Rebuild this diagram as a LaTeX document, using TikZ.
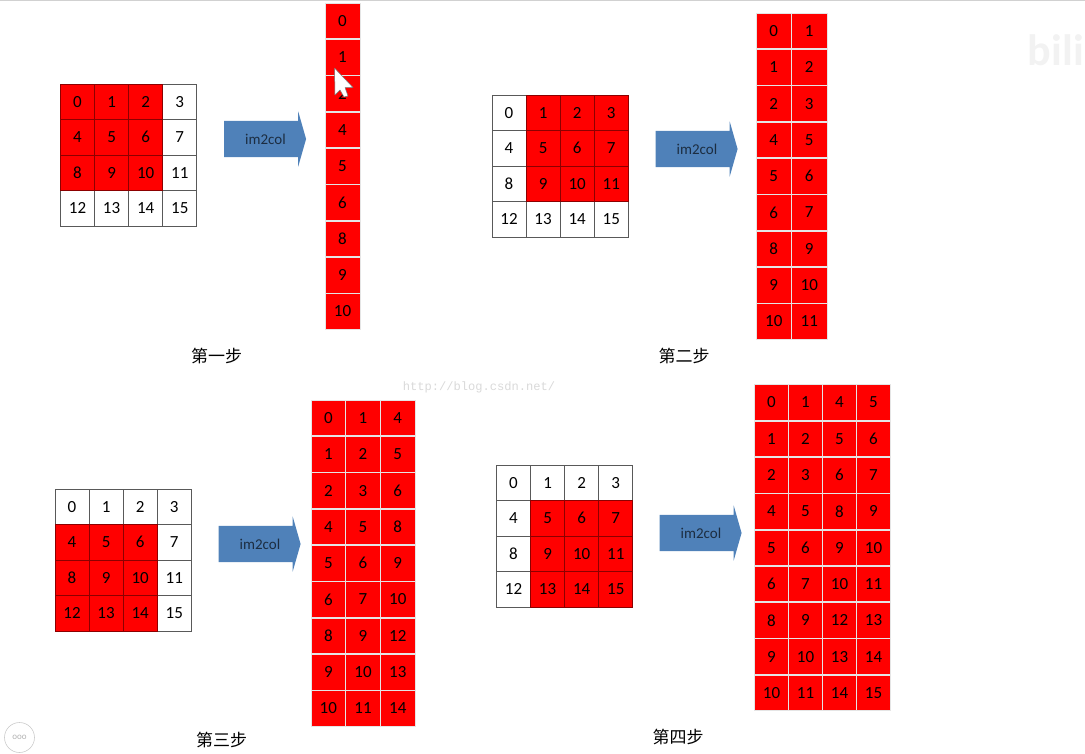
\documentclass[tikz,border=0pt]{standalone}
\usepackage{fontspec}
\setmainfont{Carlito}
\newfontfamily\cjk{Noto Sans CJK SC}
\newfontfamily\urlfont{Liberation Mono}
\definecolor{cellred}{RGB}{255,0,0}
\definecolor{arrowblue}{RGB}{79,129,185}
\usetikzlibrary{shapes.arrows}

\begin{document}
\begin{tikzpicture}[x=1pt,y=-1pt,
  whitecell/.style={draw=black!65,fill=white,line width=0.9pt,minimum width=34.1pt,minimum height=35.5pt,
    inner sep=0pt,font=\fontsize{17}{17}\selectfont},
  redcell/.style={whitecell,draw=red!55!black,fill=cellred},
  veccell/.style={draw=black!10,fill=cellred,line width=0.8pt,minimum height=35.6pt,
    inner sep=0pt,font=\fontsize{17}{17}\selectfont},
  imarrow/.style={single arrow,fill=arrowblue,draw=none,minimum height=82pt,minimum width=55pt,
    single arrow tip angle=148,single arrow head indent=0pt,inner sep=0pt,
    text height=19pt,text depth=8pt,text width=50pt,align=center,text=black!65!arrowblue,
    font=\fontsize{15}{15}\selectfont,execute at begin node={\hspace*{6pt}}},
  steplabel/.style={font=\cjk\fontsize{17}{17}\selectfont,inner sep=0pt}
]
  \useasboundingbox (0,0) rectangle (1085,753);
  \fill[black!18] (0,0) rectangle (1085,1);

  % Source grids
  \foreach \g/\gx/\gy/\redlist in {a/60.5/84/{0,1,2,4,5,6,8,9,10},b/492/95/{1,2,3,5,6,7,9,10,11},
      c/55/489/{4,5,6,8,9,10,12,13,14},d/496.5/465/{5,6,7,9,10,11,13,14,15}} {
    \foreach \n in {0,...,15} {
      \pgfmathtruncatemacro{\cx}{mod(\n,4)}
      \pgfmathtruncatemacro{\cy}{\n/4}
      \node[whitecell] (\g\n) at (\gx+\cx*34.1+17,\gy+\cy*35.5+17.7) {\n};
    }
    \foreach \n in \redlist {
      \pgfmathtruncatemacro{\cx}{mod(\n,4)}
      \pgfmathtruncatemacro{\cy}{\n/4}
      \node[redcell] (\g r\n) at (\gx+\cx*34.1+17,\gy+\cy*35.5+17.7) {\n};
    }
  }

  % Column matrices
  \foreach \g/\gx/\gy/\ncol/\pitch in {p/325/3/1/35,q/756/13/2/35.5,r/311/400/3/34.7,s/754.5/384.5/4/34} {
    \foreach \cx/\vals in {0/{0,1,2,4,5,6,8,9,10},1/{1,2,3,5,6,7,9,10,11},
        2/{4,5,6,8,9,10,12,13,14},3/{5,6,7,9,10,11,13,14,15}} {
      \ifnum\cx<\ncol
        \foreach \v [count=\cy from 0] in \vals {
          \node[veccell,minimum width=\pitch pt] (\g\cx-\cy) at (\gx+\cx*\pitch+\pitch/2,\gy+\cy*36.3+18) {\v};
        }
      \fi
    }
  }

  % Arrows
  \node[imarrow] (arr1) at (262.5,139) {im2col};
  \node[imarrow] (arr2) at (694,149) {im2col};
  \node[imarrow] (arr3) at (257,544) {im2col};
  \node[imarrow] (arr4) at (698,533) {im2col};

  % Captions
  \node[steplabel] (step1) at (216.5,356) {第一步};
  \node[steplabel] (step2) at (684,356) {第二步};
  \node[steplabel] (step3) at (221.5,740) {第三步};
  \node[steplabel] (step4) at (678,737) {第四步};

  % Pointer
  \draw[fill=white,draw=black!55,line width=0.5pt,line join=round] (334.5,68) -- (335,95) -- (340,90) -- (344,97)
    -- (348,96) -- (345,87.5) -- (353,87.5) -- cycle;

  % Watermarks
  \node[font=\urlfont\fontsize{12.1}{12.1}\selectfont,text=black!15,inner sep=0pt] (url) at (479,387) {http://blog.csdn.net/};
  \node[font=\bfseries\fontsize{44}{44}\selectfont,text=black!5,inner sep=0pt] (bili) at (1056,50) {bili};
  \node[draw=black!20,circle,minimum size=30pt,inner sep=0pt,line width=0.6pt,
    font=\fontsize{9}{9}\selectfont,text=black!30] (menu) at (19.5,737.5) {ooo};
\end{tikzpicture}
\end{document}
